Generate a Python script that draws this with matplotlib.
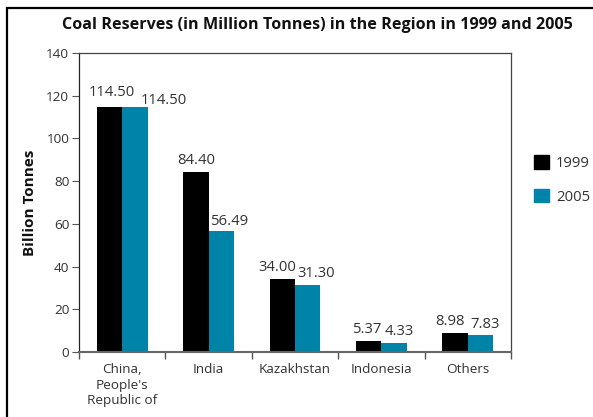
import matplotlib
matplotlib.use("Agg")
import matplotlib.pyplot as plt
import numpy as np
from matplotlib.patches import Rectangle, Patch

categories = ["China,\nPeople's\nRepublic of", "India", "Kazakhstan", "Indonesia", "Others"]
vals_1999 = [114.50, 84.40, 34.00, 5.37, 8.98]
vals_2005 = [114.50, 56.49, 31.30, 4.33, 7.83]
labels_1999 = ["114.50", "84.40", "34.00", "5.37", "8.98"]
labels_2005 = ["114.50", "56.49", "31.30", "4.33", "7.83"]
yticks = [0, 20, 40, 60, 80, 100, 120, 140]

# label offsets in points (style only)
dx_1999 = [1.5, 0.5, -3.5, -1.5, -3.5]
dy_1999 = [5.5, 2.5, 3.5, 2.5, 2.5]
dx_2005 = [20.5, 5.5, 6, 4, 3]
dy_2005 = [-0.5, 1.5, 3, 2.5, 2.5]

plt.rcParams['font.family'] = ['Open Sans', 'DejaVu Sans']
txt = '#333333'

fig = plt.figure(figsize=(5.93, 4.17), dpi=100)
ax = fig.add_axes([79/593, 1 - 352/417, (511-79)/593, (352-53)/417])

x = np.arange(len(categories))
w = 0.295
c99 = '#000000'
c05 = '#0083a9'
ax.bar(x - w/2, vals_1999, w, color=c99, label='1999')
ax.bar(x + w/2, vals_2005, w, color=c05, label='2005')

for i in range(len(x)):
    ax.annotate(labels_1999[i], (x[i] - w/2, vals_1999[i]), xytext=(dx_1999[i], dy_1999[i]),
                textcoords='offset points', ha='center', va='bottom', fontsize=10.7, color=txt)
    ax.annotate(labels_2005[i], (x[i] + w/2, vals_2005[i]), xytext=(dx_2005[i], dy_2005[i]),
                textcoords='offset points', ha='center', va='bottom', fontsize=10.7, color=txt)

ax.set_xlim(-0.5, len(categories) - 0.5)
ax.set_ylim(0, 140)
ax.set_yticks(yticks)
ax.set_yticklabels([str(t) for t in yticks], fontsize=9.7, color=txt)
ax.set_xticks(x)
ax.set_xticklabels(categories, fontsize=9.7, color=txt, linespacing=1.25, va='top')
ax.set_xticks(np.arange(len(categories) + 1) - 0.5, minor=True)
ax.tick_params(axis='x', which='major', length=0, pad=8)
ax.tick_params(axis='x', which='minor', length=5, width=1, color='#555555', direction='out')
ax.tick_params(axis='y', length=5, width=0.8, color='#555555', direction='out', pad=2)

for s in ['top', 'right']:
    ax.spines[s].set_color('#444444')
    ax.spines[s].set_linewidth(0.9)
ax.spines['left'].set_color('#222222')
ax.spines['left'].set_linewidth(0.9)
ax.spines['bottom'].set_color('#666666')
ax.spines['bottom'].set_linewidth(1.5)

ax.set_ylabel('Billion Tonnes', fontsize=11, fontweight='bold', color='#111111', labelpad=7)

fig.suptitle('Coal Reserves (in Million Tonnes) in the Region in 1999 and 2005',
             x=317/593, y=1 - 25/417, va='center', fontsize=11.6, fontweight='bold', color='#111111')

handles = [Patch(color=c99, label='1999'), Patch(color=c05, label='2005')]
fig.legend(handles=handles, loc='upper left', bbox_to_anchor=(521/593, 1 - 142/417),
           frameon=False, fontsize=10.7, handlelength=1.0, handleheight=1.0,
           labelspacing=1.2, handletextpad=0.45, labelcolor=txt)

fig.patches.append(Rectangle((7/593, -0.1), 1.2, (417 - 8)/417 + 0.1, transform=fig.transFigure,
                             fill=False, edgecolor='black', linewidth=1.6, zorder=10))

fig.savefig('out.png', dpi=100)
